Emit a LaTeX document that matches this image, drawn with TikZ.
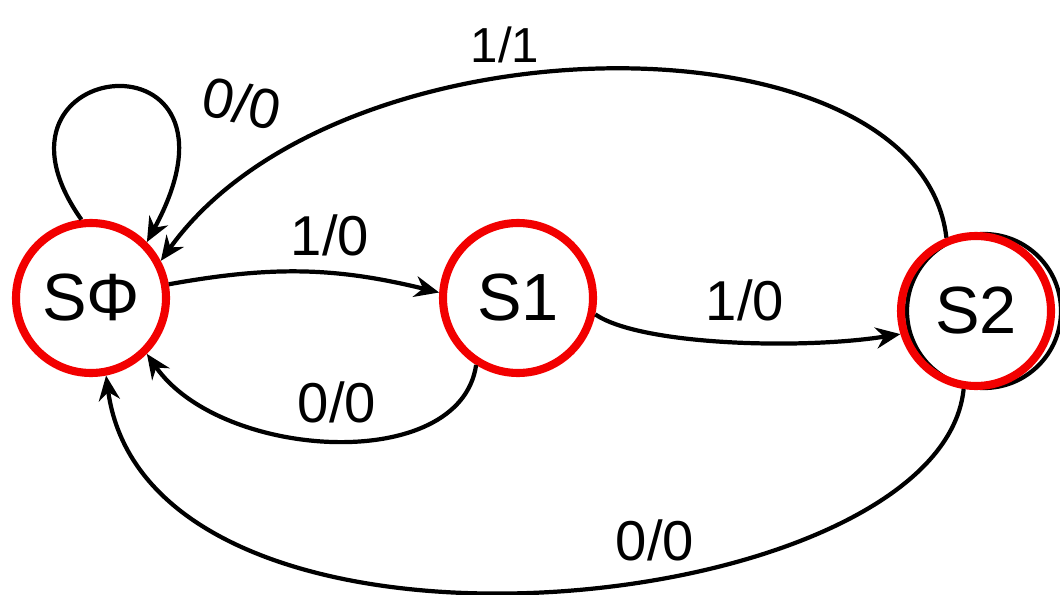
\documentclass[tikz,border=0pt]{standalone}
\usepackage{fontspec}
\setmainfont{Liberation Sans}
\usetikzlibrary{arrows.meta}

\begin{document}
\begin{tikzpicture}[>={Stealth[length=7pt, width=6pt]}, line width=1.2pt,
        state/.style={draw=myred, line width=2.3pt, circle, minimum size=1.5cm, inner sep=0pt, font=\fontsize{19}{22}\selectfont},
        lbl/.style={font=\fontsize{16}{19}\selectfont}]
        \colorlet{myred}{red!95!black}
        \useasboundingbox (0,0) rectangle (10.6,-5.95);

        % hand drawn ring of S2, a little off the red one
        \draw (9.84,-3.11) circle (0.77);

        \node[state] (s0) at (0.91,-2.98) {SΦ};
        \node[state] (s1) at (5.18,-2.98) {S1};
        \node[state] (s2) at (9.76,-3.11) {S2};

        \draw[->] (s0.97) .. controls (-0.35,-0.55) and (2.65,-0.25) .. (s0.45);
        \draw[->] (s2.112) .. controls (9.2,-0.1) and (3.4,-0.1) .. (s0.28);
        \draw[->] (s0.10) to[bend left=12] (s1.176);
        \draw[->] (s1.238) .. controls (4.6,-4.75) and (2.2,-4.6) .. (s0.-45);
        \draw[->] (s1.-12) .. controls (6.4,-3.45) and (8.0,-3.5) .. (s2.197);
        \draw[->] (s2.261) .. controls (9.4,-6.2) and (1.5,-7.0) .. (s0.281);

        \node[lbl, rotate=-12] (loop00) at (2.42,-1.03) {0/0};
        \node[lbl, font=\fontsize{14}{16}\selectfont] (top11) at (5.05,-0.45) {1/1};
        \node[lbl] (s0s1) at (3.30,-2.35) {1/0};
        \node[lbl] (s1s0) at (3.37,-4.02) {0/0};
        \node[lbl] (s1s2) at (7.45,-3.00) {1/0};
        \node[lbl] (s2s0) at (6.55,-5.40) {0/0};
    \end{tikzpicture}
\end{document}
